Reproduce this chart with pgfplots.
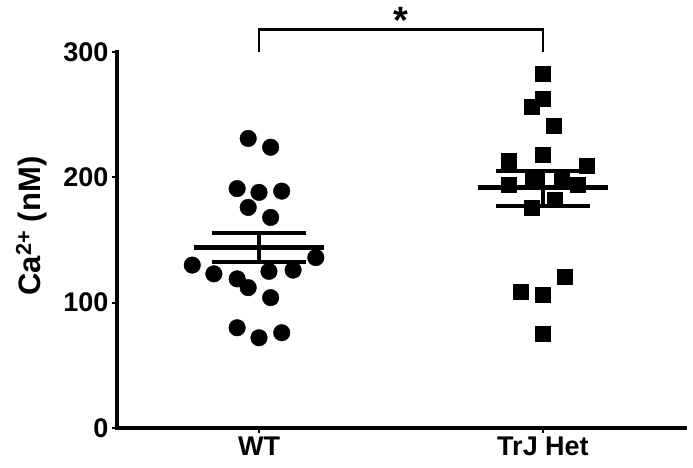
\documentclass[border=0pt]{standalone}
\usepackage{pgfplots}
\pgfplotsset{compat=1.18}
\usepackage{fontspec}
\setmainfont{Liberation Sans}
\begin{document}
\begin{tikzpicture}
\begin{axis}[
  scale only axis, width=568pt, height=376pt,
  xmin=-0.5, xmax=1.5, ymin=0, ymax=300,
  axis x line=bottom, axis y line=left,
  axis line style={-, line width=4.2pt, line cap=rect},
  clip=false,
  xtick={0,1}, xticklabels={WT,TrJ Het},
  ytick={0,100,200,300},
  tick align=outside, major tick length=5pt,
  tick style={line width=2.2pt, black},
  ticklabel style={font=\fontsize{27}{30}\selectfont\bfseries},
  /pgf/number format/assume math mode=true,
  ylabel={Ca\textsuperscript{2+} (nM)},
  ylabel style={font=\fontsize{31}{34}\selectfont\bfseries, at={(axis description cs:-0.151,0.537)}, anchor=center},
]
% WT
\addplot[only marks, mark=*, mark size=8.3pt, black] coordinates {
(-0.038,231) (0.041,224) (-0.077,191) (0,188) (0.080,189) (-0.038,176) (0.041,168)
(-0.235,130) (-0.159,123) (-0.077,119) (0.035,125) (0.120,126) (0.200,136)
(-0.038,112) (0.041,104) (-0.077,80) (0,72) (0.080,76)};
% TrJ Het
\addplot[only marks, mark=square*, mark size=7.5pt, black] coordinates {
(1,283) (1,263) (0.959,256) (1.038,241) (1,218) (0.88,213) (1.155,209)
(0.88,194) (0.964,198) (1.066,197) (1.122,194) (1.041,182) (0.959,176)
(1.077,121) (0.92,109) (1,106) (1,75)};
% mean and SEM WT
\addplot[black, line width=5pt, no marks] coordinates {(-0.23,144) (0.23,144)};
\addplot[black, line width=4pt, no marks] coordinates {(-0.165,155.5) (0.165,155.5)};
\addplot[black, line width=4pt, no marks] coordinates {(-0.165,132.5) (0.165,132.5)};
\addplot[black, line width=4pt, no marks] coordinates {(0,132.5) (0,155.5)};
% mean and SEM TrJ
\addplot[black, line width=5pt, no marks] coordinates {(0.77,191.5) (1.23,191.5)};
\addplot[black, line width=4pt, no marks] coordinates {(0.835,205) (1.165,205)};
\addplot[black, line width=4pt, no marks] coordinates {(0.835,177) (1.165,177)};
\addplot[black, line width=4pt, no marks] coordinates {(1,177) (1,205)};
% significance bracket
\addplot[black, line width=2.5pt, no marks] coordinates {(0,300) (0,318) (1,318) (1,300)};
\node[anchor=base, font=\fontsize{38}{40}\selectfont\bfseries] at (axis cs:0.5,315) {*};
\end{axis}
\pgfresetboundingbox
\path[use as bounding box] ([shift={(-117pt,-40pt)}]current axis.south west) rectangle ([shift={(8pt,52pt)}]current axis.north east);
\end{tikzpicture}
\end{document}
